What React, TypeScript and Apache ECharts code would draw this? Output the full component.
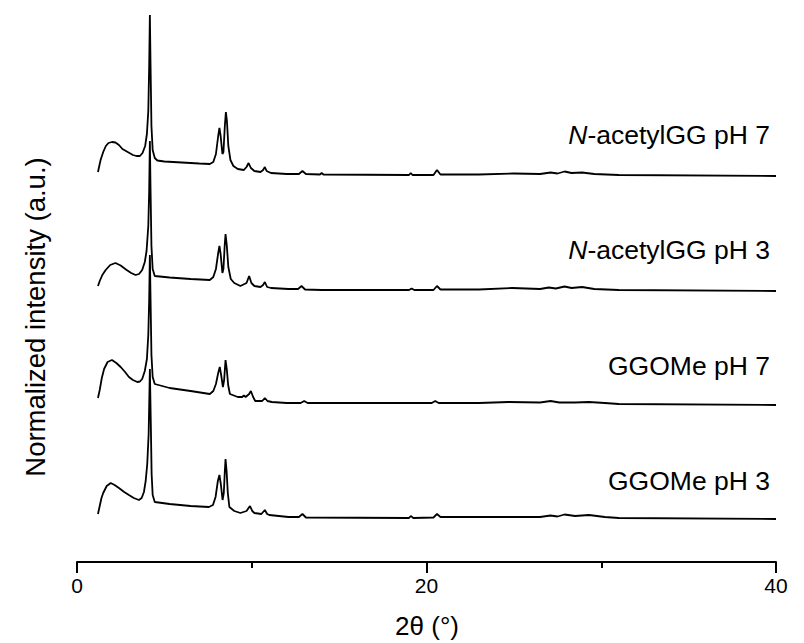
import React, { useEffect, useRef } from "react";
import * as echarts from "echarts";

const FONT = "'Liberation Sans', Arial, sans-serif";

const sampleNames = ["N-acetylGG pH 7", "N-acetylGG pH 3", "GGOMe pH 7", "GGOMe pH 3"];
const sampleLabels = ["{i|N}-acetylGG pH 7", "{i|N}-acetylGG pH 3", "GGOMe pH 7", "GGOMe pH 3"];
const offsets = [386, 271, 157, 43];
const xTickLabels = [0, 20, 40];

// [2θ (°), intensity above baseline (a.u.)]
const acetylGG_pH7: number[][] = [
  [1.2, 4], [1.25, 8], [1.35, 16], [1.5, 24], [1.65, 30], [1.8, 33], [2.0, 34], [2.2, 33.5], [2.4, 31],
  [2.6, 27], [2.8, 25], [3.0, 23], [3.2, 21], [3.4, 20], [3.6, 20], [3.75, 23], [3.9, 30], [4.0, 42],
  [4.08, 65], [4.13, 110], [4.17, 161], [4.21, 110], [4.26, 50], [4.33, 26], [4.45, 18], [4.6, 15.5],
  [5.0, 14.5], [6.0, 13.5], [7.0, 12.5], [7.6, 12], [7.8, 14], [7.95, 22], [8.08, 40], [8.15, 48],
  [8.22, 40], [8.32, 22], [8.38, 24], [8.46, 50], [8.52, 64], [8.58, 55], [8.66, 30], [8.78, 16],
  [8.95, 10], [9.2, 7], [9.55, 6], [9.7, 9], [9.82, 13], [9.95, 8], [10.15, 5], [10.5, 4], [10.65, 6],
  [10.75, 9], [10.85, 5], [11.1, 3], [12.0, 2], [12.7, 2], [12.9, 5], [13.1, 2], [13.9, 1.5], [14.0, 3],
  [14.1, 1.5], [19.0, 1], [19.1, 3], [19.2, 1], [20.4, 1], [20.6, 6], [20.8, 1.5], [23, 1.5], [25, 2.5],
  [26.5, 2], [27.1, 3.5], [27.5, 2.5], [27.9, 4.5], [28.3, 3], [28.9, 3.5], [29.6, 2], [31, 1], [40, 0],
];
const acetylGG_pH3: number[][] = [
  [1.2, 5], [1.3, 10], [1.45, 16], [1.64, 21], [1.9, 26], [2.2, 28], [2.5, 25.5], [2.8, 21.5], [3.1, 18],
  [3.35, 16], [3.55, 17], [3.73, 21], [3.88, 29], [3.98, 40], [4.08, 65], [4.13, 100], [4.17, 150],
  [4.21, 100], [4.26, 45], [4.33, 22], [4.45, 15], [5.3, 13.5], [6.5, 12], [7.6, 11], [7.8, 14],
  [7.95, 22], [8.08, 38], [8.15, 45], [8.22, 37], [8.32, 18], [8.38, 22], [8.45, 45], [8.5, 57],
  [8.57, 46], [8.66, 24], [8.8, 12], [9.0, 8], [9.35, 5], [9.7, 8], [9.85, 15], [9.98, 8], [10.15, 5],
  [10.5, 4], [10.65, 6], [10.75, 9], [10.88, 4], [11.1, 3], [12.1, 2], [12.65, 2], [12.85, 5], [13.05, 1.5],
  [14, 1], [19.0, 1], [19.15, 2.5], [19.3, 1], [20.4, 1], [20.6, 5], [20.8, 1.5], [23, 1.5], [24.9, 3],
  [26.5, 2], [27.0, 3.5], [27.4, 2.5], [27.9, 4.5], [28.3, 3], [28.9, 4], [29.6, 2], [31, 1], [40, 0],
];
const GGOMe_pH7: number[][] = [
  [1.2, 7], [1.3, 15], [1.42, 27], [1.55, 36], [1.75, 43], [2.0, 45], [2.25, 42], [2.5, 38], [2.75, 33],
  [2.97, 28], [3.2, 25], [3.45, 23], [3.6, 23.5], [3.73, 26], [3.88, 34], [4.0, 46], [4.08, 70],
  [4.13, 105], [4.17, 150], [4.21, 105], [4.26, 50], [4.33, 28], [4.45, 21], [5.3, 17], [6.5, 14],
  [7.6, 11], [7.8, 14], [7.95, 21], [8.08, 32], [8.17, 38], [8.25, 30], [8.35, 18], [8.42, 25],
  [8.5, 45], [8.57, 36], [8.65, 20], [8.75, 11], [9.2, 8], [9.45, 8], [9.55, 9.5], [9.65, 8], [9.85, 11],
  [9.95, 14], [10.08, 8], [10.2, 4], [10.6, 4], [10.75, 7], [10.9, 4], [11.15, 3], [12, 2], [12.8, 2],
  [13, 4], [13.2, 2], [20.3, 2], [20.5, 4], [20.7, 2], [23, 2], [24.7, 3], [26.5, 2.5], [27.1, 4],
  [27.6, 2.5], [28.5, 2.5], [29.3, 3], [30.2, 2], [31, 1], [40, 0],
];
const GGOMe_pH3: number[][] = [
  [1.2, 5], [1.3, 13], [1.4, 21], [1.5, 26], [1.7, 33], [1.93, 36], [2.15, 34], [2.4, 31], [2.7, 27],
  [2.97, 24], [3.25, 21], [3.54, 19], [3.7, 21], [3.83, 27], [3.93, 38], [4.02, 55], [4.1, 85],
  [4.17, 150], [4.22, 100], [4.27, 45], [4.33, 24], [4.45, 17], [5.3, 15], [6.5, 13], [7.55, 12],
  [7.78, 14], [7.93, 22], [8.06, 38], [8.15, 44], [8.23, 35], [8.33, 19], [8.4, 26], [8.46, 48],
  [8.5, 60], [8.56, 48], [8.63, 26], [8.72, 12], [9.0, 8], [9.35, 6], [9.7, 8], [9.9, 13], [10.03, 8],
  [10.15, 6], [10.55, 5], [10.65, 7], [10.75, 9], [10.88, 5], [11.0, 4], [12.1, 2], [12.7, 2], [12.9, 5],
  [13.1, 1.5], [19.0, 1], [19.1, 3], [19.25, 1], [20.4, 1.5], [20.6, 5], [20.8, 2], [23, 2], [26.5, 2],
  [27.1, 3.5], [27.5, 2.5], [27.9, 4.5], [28.5, 3], [29.3, 4], [30.2, 2], [31, 1], [40, 0],
];
const traces = [acetylGG_pH7, acetylGG_pH3, GGOMe_pH7, GGOMe_pH3];

export default function App() {
  const ref = useRef<HTMLDivElement>(null);
  useEffect(() => {
    if (!ref.current) return;
    const chart = echarts.init(ref.current, undefined, { renderer: "svg" });
    const labelY = [135, 250, 366, 481];
    chart.setOption({
      animation: false,
      backgroundColor: "#fff",
      grid: { left: 77, right: 28, top: 15, bottom: 81 },
      xAxis: {
        type: "value",
        min: 0,
        max: 40,
        interval: 20,
        axisLine: { show: true, lineStyle: { color: "#000", width: 2 } },
        axisTick: { show: true, length: 11, lineStyle: { color: "#000", width: 2 } },
        minorTick: { show: true, splitNumber: 2, length: 6, lineStyle: { color: "#000", width: 2 } },
        splitLine: { show: false },
        axisLabel: {
          color: "#000",
          fontSize: 21,
          fontFamily: FONT,
          margin: 13,
          formatter: (v: number) => (xTickLabels.includes(v) ? String(v) : ""),
        },
      },
      yAxis: {
        type: "value",
        min: 0,
        max: 547,
        show: false,
      },
      graphic: [
        {
          type: "text",
          x: 35,
          y: 317,
          rotation: Math.PI / 2,
          style: {
            text: "Normalized intensity (a.u.)",
            fill: "#000",
            fontSize: 27.5,
            fontFamily: FONT,
            align: "center",
            verticalAlign: "middle",
            textAlign: "center",
            textVerticalAlign: "middle",
          },
        },
        {
          type: "text",
          x: 427,
          y: 626,
          style: {
            text: "2θ (°)",
            fill: "#000",
            fontSize: 26,
            fontFamily: FONT,
            align: "center",
            verticalAlign: "middle",
            textAlign: "center",
            textVerticalAlign: "middle",
          },
        },
        ...sampleLabels.map((t, i) => ({
          type: "text",
          x: 770,
          y: labelY[i],
          style: {
            text: t,
            fill: "#000",
            fontSize: 26.5,
            fontFamily: FONT,
            align: "right",
            verticalAlign: "middle",
            textAlign: "right",
            textVerticalAlign: "middle",
            rich: {
              i: { fontStyle: "italic", fontSize: 26.5, fontFamily: FONT, fill: "#000" },
            },
          },
        })),
      ],
      series: traces.map((tr, i) => ({
        name: sampleNames[i],
        type: "line",
        symbol: "none",
        smooth: false,
        clip: true,
        lineStyle: { color: "#000", width: 1.8 },
        data: tr.map(([x, y]) => [x, y + offsets[i]]),
      })),
    });
    return () => chart.dispose();
  }, []);
  return (
    <div
      ref={ref}
      style={{ position: "absolute", left: 0, top: 0, width: 804, height: 643, background: "#fff" }}
    />
  );
}
